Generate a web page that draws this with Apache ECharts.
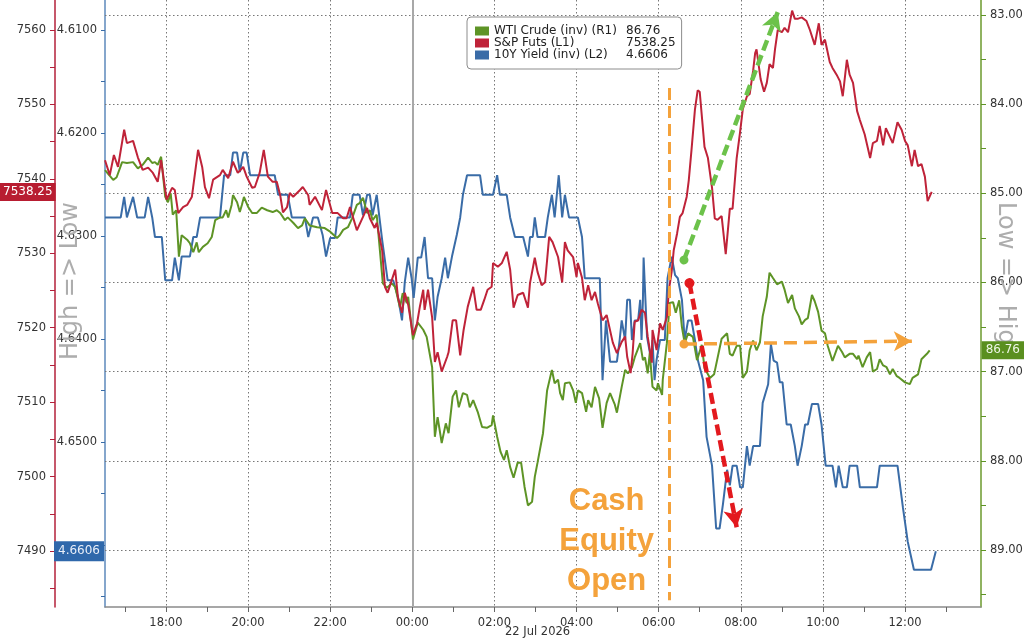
<!DOCTYPE html>
<html><head><meta charset="utf-8">
<script src="https://cdn.jsdelivr.net/npm/echarts@6/dist/echarts.min.js"></script>
<style>html,body{margin:0;padding:0;background:#fff}#c{width:1024px;height:640px}</style>
</head><body><div id="c"></div>
<script>
// ---- DATA (times are local clock, 21 Jul 16:31 → 22 Jul 12:45) ----
const spx = [["16:31",7542.5],["16:38",7540.5],["16:44",7543.2],["16:50",7541.6],["16:59",7546.6],["17:03",7544.8],["17:12",7545.1],["17:19",7542.9],["17:26",7541.2],["17:34",7541.5],["17:41",7540.8],["17:48",7539.6],["17:53",7542.5],["18:01",7537.2],["18:09",7538.8],["18:13",7538.5],["18:18",7535.4],["18:25",7536.2],["18:31",7536.5],["18:38",7537.6],["18:47",7543.9],["18:53",7541.6],["18:57",7538.9],["19:03",7537.4],["19:09",7539.9],["19:19",7540.5],["19:23",7541.2],["19:31",7540.1],["19:38",7542.3],["19:45",7540.8],["19:53",7541.6],["19:58",7540.3],["20:06",7538.8],["20:10",7538.9],["20:17",7540.8],["20:23",7543.9],["20:29",7540.3],["20:36",7539.6],["20:42",7539.6],["20:47",7537.8],["20:51",7535.5],["20:57",7536.2],["21:01",7538.1],["21:06",7537.6],["21:16",7538.5],["21:20",7538.9],["21:28",7537.8],["21:30",7536.5],["21:38",7537.6],["21:48",7535.8],["21:54",7538.5],["22:03",7535.4],["22:11",7535.4],["22:19",7534.7],["22:24",7534.7],["22:29",7536.2],["22:39",7533.1],["22:46",7534.5],["22:54",7536.1],["22:58",7534.7],["23:05",7533.4],["23:08",7534.1],["23:16",7530.4],["23:20",7525.5],["23:24",7524.7],["23:30",7526.4],["23:35",7527.8],["23:39",7524.1],["23:45",7522.0],["23:49",7524.7],["23:54",7523.1],["00:01",7519.0],["00:07",7520.6],["00:11",7522.8],["00:16",7525.1],["00:18",7522.4],["00:23",7525.1],["00:29",7521.4],["00:33",7515.4],["00:37",7516.7],["00:43",7514.1],["00:51",7516.1],["00:53",7516.7],["00:59",7521.0],["01:04",7521.0],["01:10",7516.3],["01:15",7519.7],["01:21",7522.8],["01:29",7525.5],["01:34",7522.4],["01:40",7522.4],["01:45",7523.7],["01:50",7525.1],["01:56",7525.5],["01:58",7528.7],["02:05",7528.2],["02:11",7528.7],["02:18",7530.2],["02:23",7527.8],["02:28",7522.7],["02:34",7524.4],["02:42",7524.7],["02:49",7522.7],["02:52",7526.0],["02:59",7529.4],["03:03",7527.5],["03:09",7525.7],["03:14",7526.1],["03:17",7529.1],["03:20",7532.2],["03:25",7531.5],["03:33",7529.5],["03:39",7526.1],["03:43",7531.5],["03:47",7530.4],["03:55",7529.5],["04:00",7526.8],["04:02",7528.7],["04:08",7526.7],["04:12",7523.7],["04:17",7525.7],["04:22",7523.7],["04:27",7524.8],["04:31",7523.3],["04:38",7521.0],["04:44",7521.7],["04:53",7518.0],["04:59",7516.6],["05:06",7518.1],["05:11",7518.8],["05:14",7516.1],["05:19",7513.9],["05:22",7516.6],["05:25",7520.8],["05:30",7521.0],["05:35",7522.4],["05:40",7522.0],["05:44",7518.8],["05:50",7515.3],["05:51",7519.7],["05:57",7517.0],["06:02",7520.6],["06:06",7519.7],["06:12",7521.4],["06:15",7525.1],["06:19",7527.5],["06:22",7530.4],["06:27",7532.7],["06:31",7534.9],["06:35",7535.4],["06:41",7537.6],["06:44",7539.8],["06:48",7543.9],["06:53",7549.3],["06:57",7551.9],["07:00",7551.7],["07:07",7544.3],["07:12",7542.8],["07:18",7538.8],["07:22",7534.7],["07:26",7534.5],["07:32",7535.0],["07:38",7529.9],["07:44",7536.0],["07:48",7536.0],["07:54",7542.8],["07:59",7546.3],["08:03",7549.4],["08:09",7551.1],["08:13",7551.4],["08:18",7554.5],["08:21",7556.9],["08:23",7557.4],["08:29",7553.4],["08:34",7551.7],["08:38",7552.9],["08:42",7555.4],["08:47",7554.9],["08:50",7557.4],["08:54",7560.0],["09:00",7559.7],["09:04",7560.3],["09:09",7559.7],["09:15",7562.6],["09:19",7561.5],["09:23",7561.5],["09:29",7561.7],["09:36",7561.2],["09:41",7560.0],["09:48",7558.0],["09:54",7560.9],["09:58",7558.0],["10:03",7558.7],["10:10",7555.7],["10:14",7554.9],["10:20",7554.0],["10:25",7553.1],["10:29",7551.1],["10:35",7556.0],["10:39",7554.0],["10:44",7552.9],["10:50",7549.1],["10:54",7547.9],["11:01",7546.0],["11:09",7542.8],["11:13",7544.8],["11:19",7545.1],["11:23",7547.1],["11:28",7544.5],["11:32",7546.8],["11:38",7545.6],["11:42",7544.8],["11:49",7547.6],["11:55",7546.6],["12:00",7545.1],["12:04",7544.5],["12:10",7541.7],["12:14",7543.9],["12:19",7541.7],["12:24",7542.0],["12:29",7540.3],["12:33",7537.0],["12:39",7538.25]];

const wti = [["16:31",84.74],["16:43",84.85],["16:48",84.82],["16:56",84.65],["17:03",84.66],["17:12",84.65],["17:19",84.72],["17:26",84.68],["17:34",84.60],["17:40",84.66],["17:44",84.65],["17:48",84.68],["17:53",84.59],["17:59",85.04],["18:03",85.10],["18:07",85.00],["18:10",85.24],["18:15",85.19],["18:19",85.71],["18:23",85.47],["18:31",85.52],["18:35",85.56],["18:40",85.66],["18:45",85.55],["18:48",85.66],["18:54",85.60],["19:01",85.56],["19:07",85.49],["19:12",85.30],["19:19",85.27],["19:23",85.27],["19:28",85.19],["19:31",85.27],["19:36",85.13],["19:38",85.02],["19:44",85.10],["19:48",85.21],["19:51",85.13],["19:54",85.04],["20:00",85.15],["20:06",85.22],["20:13",85.22],["20:20",85.16],["20:28",85.19],["20:36",85.21],["20:42",85.19],["20:47",85.22],["20:54",85.30],["20:58",85.27],["21:06",85.33],["21:13",85.39],["21:19",85.36],["21:23",85.28],["21:30",85.36],["21:41",85.38],["21:52",85.39],["22:00",85.43],["22:10",85.50],["22:14",85.47],["22:19",85.41],["22:26",85.38],["22:32",85.28],["22:39",85.13],["22:43",85.11],["22:48",85.05],["22:54",85.22],["22:58",85.19],["23:02",85.30],["23:08",85.24],["23:17",86.01],["23:23",86.06],["23:30",86.01],["23:35",86.05],["23:42",86.28],["23:46",86.12],["23:52",86.23],["23:54",86.16],["00:01",86.64],["00:08",86.45],["00:16",86.53],["00:21",86.61],["00:29",86.95],["00:33",87.73],["00:37",87.51],["00:43",87.80],["00:49",87.58],["00:53",87.69],["00:59",87.28],["01:04",87.21],["01:08",87.40],["01:14",87.24],["01:20",87.26],["01:24",87.40],["01:29",87.32],["01:36",87.46],["01:42",87.62],["01:49",87.63],["01:56",87.60],["01:58",87.49],["02:04",87.73],["02:09",87.90],["02:14",87.99],["02:18",87.88],["02:23",88.07],["02:28",88.19],["02:34",88.02],["02:39",88.02],["02:44",88.29],["02:49",88.50],["02:55",88.46],["02:59",88.18],["03:03",88.02],["03:11",87.69],["03:17",87.21],["03:24",86.98],["03:28",87.13],["03:33",87.09],["03:36",87.24],["03:40",87.32],["03:43",87.13],["03:50",87.12],["03:55",87.21],["03:59",87.35],["04:02",87.21],["04:08",87.24],["04:14",87.45],["04:17",87.32],["04:22",87.40],["04:27",87.17],["04:33",87.30],["04:38",87.63],["04:44",87.35],["04:49",87.24],["04:56",87.37],["04:59",87.46],["05:06",87.17],["05:11",86.98],["05:15",87.02],["05:21",86.95],["05:25",86.84],["05:33",86.68],["05:37",86.87],["05:40",86.84],["05:44",87.02],["05:47",86.79],["05:51",87.17],["05:57",87.21],["05:59",87.13],["06:05",87.26],["06:06",87.09],["06:12",86.68],["06:16",86.23],["06:21",86.22],["06:25",86.34],["06:30",86.20],["06:34",86.50],["06:38",86.68],["06:43",86.57],["06:50",86.61],["06:56",86.87],["07:03",86.70],["07:07",86.96],["07:15",87.07],["07:21",87.03],["07:32",86.63],["07:40",86.57],["07:44",86.80],["07:48",86.82],["07:54",86.71],["07:59",86.71],["08:03",87.07],["08:09",87.00],["08:13",86.76],["08:18",86.65],["08:23",86.76],["08:28",86.67],["08:32",86.38],["08:38",86.16],["08:42",85.89],["08:47",85.95],["08:53",86.02],["09:00",85.99],["09:04",86.08],["09:09",86.23],["09:15",86.14],["09:19",86.29],["09:25",86.38],["09:29",86.47],["09:34",86.42],["09:38",86.40],["09:44",86.14],["09:48",86.21],["09:53",86.33],["09:58",86.54],["10:03",86.57],["10:07",86.71],["10:14",86.88],["10:22",86.71],["10:28",86.78],["10:32",86.84],["10:39",86.80],["10:44",86.80],["10:50",86.86],["10:52",86.82],["10:58",86.95],["11:04",86.84],["11:09",86.78],["11:13",87.00],["11:19",86.97],["11:23",86.86],["11:28",86.93],["11:33",86.95],["11:38",87.03],["11:42",86.97],["11:48",87.05],["11:52",87.07],["12:00",87.12],["12:07",87.14],["12:11",87.07],["12:19",87.03],["12:24",86.86],["12:32",86.80],["12:36",86.76]];

const ust = [["16:31",4.6282],["16:54",4.6282],["16:59",4.6262],["17:03",4.6282],["17:12",4.6262],["17:18",4.6282],["17:29",4.6282],["17:34",4.6262],["17:40",4.6282],["17:44",4.6301],["17:54",4.6301],["17:59",4.6343],["18:09",4.6343],["18:13",4.6321],["18:19",4.6343],["18:23",4.6320],["18:35",4.6320],["18:40",4.6301],["18:45",4.6301],["18:50",4.6282],["19:19",4.6282],["19:25",4.6241],["19:34",4.6241],["19:38",4.6219],["19:44",4.6219],["19:48",4.6238],["19:53",4.6219],["19:58",4.6219],["20:03",4.6241],["20:39",4.6241],["20:44",4.6260],["20:58",4.6260],["21:04",4.6282],["21:23",4.6282],["21:28",4.6301],["21:35",4.6282],["21:42",4.6282],["21:49",4.6299],["21:54",4.6320],["22:00",4.6302],["22:07",4.6302],["22:11",4.6282],["22:29",4.6282],["22:33",4.6260],["22:43",4.6260],["22:48",4.6280],["22:54",4.6260],["22:58",4.6260],["23:02",4.6280],["23:08",4.6260],["23:16",4.6304],["23:24",4.6343],["23:32",4.6343],["23:39",4.6359],["23:45",4.6382],["23:49",4.6345],["23:54",4.6321],["23:59",4.6341],["00:02",4.6360],["00:08",4.6321],["00:13",4.6321],["00:18",4.6301],["00:23",4.6341],["00:29",4.6341],["00:33",4.6382],["00:37",4.6359],["00:43",4.6341],["00:48",4.6321],["00:52",4.6341],["00:58",4.6320],["01:05",4.6299],["01:10",4.6282],["01:14",4.6260],["01:20",4.6241],["01:39",4.6241],["01:43",4.6260],["01:58",4.6260],["02:04",4.6241],["02:08",4.6260],["02:18",4.6260],["02:23",4.6282],["02:30",4.6301],["02:42",4.6301],["02:49",4.6320],["02:52",4.6301],["02:56",4.6301],["02:59",4.6282],["03:03",4.6301],["03:14",4.6301],["03:18",4.6282],["03:24",4.6260],["03:28",4.6282],["03:34",4.6241],["03:39",4.6282],["03:43",4.6260],["03:49",4.6282],["04:02",4.6282],["04:08",4.6301],["04:12",4.6341],["04:34",4.6341],["04:38",4.6440],["04:43",4.6382],["04:49",4.6422],["04:59",4.6422],["05:03",4.6401],["05:06",4.6382],["05:11",4.6401],["05:14",4.6362],["05:18",4.6362],["05:21",4.6401],["05:25",4.6382],["05:30",4.6382],["05:33",4.6362],["05:35",4.6401],["05:37",4.6362],["05:38",4.6321],["05:43",4.6398],["05:49",4.6420],["05:51",4.6401],["05:54",4.6440],["05:57",4.6420],["06:02",4.6401],["06:09",4.6401],["06:13",4.6341],["06:19",4.6320],["06:24",4.6338],["06:28",4.6341],["06:34",4.6362],["06:38",4.6401],["06:43",4.6382],["06:48",4.6382],["06:53",4.6401],["06:57",4.6420],["07:05",4.6440],["07:10",4.6495],["07:18",4.6523],["07:24",4.6584],["07:29",4.6584],["07:34",4.6560],["07:40",4.6527],["07:44",4.6542],["07:48",4.6523],["07:54",4.6523],["07:59",4.6544],["08:03",4.6544],["08:09",4.6504],["08:13",4.6523],["08:18",4.6504],["08:28",4.6504],["08:32",4.6462],["08:40",4.6444],["08:44",4.6405],["08:48",4.6421],["08:53",4.6423],["08:57",4.6442],["09:01",4.6442],["09:07",4.6483],["09:13",4.6483],["09:19",4.6504],["09:23",4.6523],["09:29",4.6504],["09:34",4.6483],["09:38",4.6483],["09:44",4.6463],["09:53",4.6463],["09:58",4.6483],["10:04",4.6523],["10:14",4.6523],["10:19",4.6544],["10:23",4.6523],["10:29",4.6544],["10:35",4.6544],["10:39",4.6523],["10:50",4.6523],["10:54",4.6544],["11:19",4.6544],["11:23",4.6523],["11:49",4.6523],["11:57",4.6564],["12:04",4.6597],["12:13",4.6624],["12:38",4.6624],["12:45",4.6606]];

const lastValues = {wti: 86.76, spx: 7538.25, ust: 4.6606};
const xLabelTimes = ["18:00","20:00","22:00","00:00","02:00","04:00","06:00","08:00","10:00","12:00"];
const xTickTimes = ["17:00","18:00","19:00","20:00","21:00","22:00","23:00","00:00","01:00","02:00","03:00","04:00","05:00","06:00","07:00","08:00","09:00","10:00","11:00","12:00","13:00"];
const spxLabels = [7490,7500,7510,7520,7530,7540,7550,7560];
const spxMinor = [7485,7495,7505,7515,7525,7535,7545,7555];
const ustLabels = [4.61,4.62,4.63,4.64,4.65];
const ustMinor = [4.615,4.625,4.635,4.645,4.655,4.66,4.665];
const wtiLabels = [83,84,85,86,87,88,89];
const wtiMinor = [83.5,84.5,85.5,86.5,87.5,88.5,89.5];
const seriesNames = ["WTI Crude (inv) (R1)","S&P Futs (L1)","10Y Yield (inv) (L2)"];
const dateLabel = "22 Jul 2026";

// ---- helpers ----
function toMin(s){const p=s.split(':').map(Number);let v=p[0]*60+p[1];if(p[0]>=14)v-=1440;return v;}
function fmtMin(v){const t=((Math.round(v)%1440)+1440)%1440;const h=Math.floor(t/60),m=t%60;return (h<10?'0':'')+h+':'+(m<10?'0':'')+m;}
const F = '"DejaVu Sans", sans-serif';
const cGreen='#5e9426', cRed='#bf2339', cBlue='#3a6ca7', cOrange='#f4a23b';

const chart = echarts.init(document.getElementById('c'), null, {renderer:'canvas'});
const valMap = {[seriesNames[0]]:lastValues.wti.toFixed(2), [seriesNames[1]]:lastValues.spx.toFixed(2), [seriesNames[2]]:lastValues.ust.toFixed(4)};

const option = {
  animation:false,
  textStyle:{fontFamily:F},
  grid:{left:105,right:43,top:0,bottom:33,containLabel:false,outerBoundsMode:'none'},
  legend:{
    data:seriesNames, orient:'vertical', left:467, top:17, selectedMode:false,
    backgroundColor:'#fff', borderColor:'#8c8c8c', borderWidth:1, borderRadius:4,
    padding:[8,6,8,8], itemGap:0, itemWidth:14, itemHeight:9, icon:'rect',
    textStyle:{fontFamily:F,fontSize:12,color:'#222',
      rich:{n:{width:132,fontFamily:F,fontSize:12,color:'#222'},v:{width:46,fontFamily:F,fontSize:12,color:'#222'}}},
    formatter:n=>'{n|'+n+'}{v|'+valMap[n]+'}'
  },
  xAxis:{
    type:'value', min:toMin('16:31'), max:toMin('13:51'),
    axisLine:{show:true,onZero:false,lineStyle:{color:'#8a8a8a',width:1.5}},
    axisTick:{show:true,length:5,customValues:xTickTimes.map(toMin),lineStyle:{color:'#666'}},
    axisLabel:{customValues:xLabelTimes.map(toMin),formatter:v=>fmtMin(v),color:'#333',fontSize:11.5,fontFamily:F,margin:10},
    splitLine:{show:false}
  },
  yAxis:[
    {type:'value',position:'left',offset:50,min:7482.48,max:7564.03,
     axisLine:{show:true,onZero:false,lineStyle:{color:'#b3203a',width:1.5}},
     axisTick:{show:true,length:5,customValues:spxLabels.concat(spxMinor),lineStyle:{color:'#b3203a'}},
     axisLabel:{customValues:spxLabels,formatter:v=>String(v),color:'#333',fontSize:11.5,fontFamily:F,margin:9},
     splitLine:{show:false},
     axisPointer:{show:true,type:'none',status:'show',value:lastValues.spx,triggerTooltip:false,snap:false,
       label:{show:true,formatter:()=>lastValues.spx.toFixed(2),backgroundColor:'#b81d31',color:'#fff',fontFamily:F,fontSize:12,padding:[3,3,3,3],margin:1,borderRadius:0}}},
    {type:'value',position:'left',offset:0,inverse:true,min:4.60709,max:4.66602,
     axisLine:{show:true,onZero:false,lineStyle:{color:'#5d88bb',width:1.5}},
     axisTick:{show:true,length:4,customValues:ustLabels.concat(ustMinor),lineStyle:{color:'#3a6ca7'}},
     axisLabel:{customValues:ustLabels,formatter:v=>v.toFixed(4),color:'#333',fontSize:11.5,fontFamily:F,margin:8},
     splitLine:{show:false},
     axisPointer:{show:true,type:'none',status:'show',value:lastValues.ust,triggerTooltip:false,snap:false,
       label:{show:true,formatter:()=>lastValues.ust.toFixed(4),backgroundColor:'#2f68ab',color:'#e8eef8',fontFamily:F,fontSize:12,padding:[4,4,4,4],margin:1,borderRadius:0}}},
    {type:'value',position:'right',offset:0,inverse:true,min:82.832,max:89.639,
     axisLine:{show:true,onZero:false,lineStyle:{color:'#6b9a2c',width:1.5}},
     axisTick:{show:true,length:5,customValues:wtiLabels.concat(wtiMinor),lineStyle:{color:'#5e9426'}},
     axisLabel:{customValues:wtiLabels,formatter:v=>v.toFixed(2),color:'#333',fontSize:11.5,fontFamily:F,margin:9},
     splitLine:{show:false},
     axisPointer:{show:true,type:'none',status:'show',value:lastValues.wti,triggerTooltip:false,snap:false,
       label:{show:true,formatter:()=>lastValues.wti.toFixed(2),backgroundColor:'#5a8f1f',color:'#eef6e6',fontFamily:F,fontSize:12,padding:[3,4,3,4],margin:1,borderRadius:0}}}
  ],
  series:[
    {name:seriesNames[2],type:'line',yAxisIndex:1,data:ust.map(d=>[toMin(d[0]),d[1]]),showSymbol:false,symbol:'none',
     lineStyle:{color:cBlue,width:2},itemStyle:{color:cBlue},z:3},
    {name:seriesNames[0],type:'line',yAxisIndex:2,data:wti.map(d=>[toMin(d[0]),d[1]]),showSymbol:false,symbol:'none',
     lineStyle:{color:cGreen,width:2},itemStyle:{color:cGreen},z:3,
     markLine:{silent:true,symbol:['none','none'],z:1,label:{show:false},animation:false,
       lineStyle:{color:'#777',type:[1.5,2.5],width:1},
       data:wtiLabels.map(v=>({yAxis:v}))
         .concat(xLabelTimes.filter(t=>t!=='00:00').map(t=>({xAxis:toMin(t)})))
         .concat([{xAxis:toMin('00:00'),lineStyle:{type:'solid',color:'#a8a8a8',width:2}}])}},
    {name:seriesNames[1],type:'line',yAxisIndex:0,data:spx.map(d=>[toMin(d[0]),d[1]]),showSymbol:false,symbol:'none',
     lineStyle:{color:cRed,width:2},itemStyle:{color:cRed},z:4,
     markLine:{silent:true,z:6,label:{show:false},animation:false,symbol:['none','none'],
       data:[
         [{coord:[toMin('06:16'),7552.2],symbol:'none',lineStyle:{color:cOrange,width:3,type:[12,6]}},{coord:[toMin('06:16'),7483.4],symbol:'none'}],
         [{coord:[toMin('06:37'),7529.1],symbol:'circle',symbolSize:9,lineStyle:{color:'#6cc24a',width:4.5,type:[11,5]}},{coord:[toMin('08:54'),7562.4],symbol:'arrow',symbolSize:[15,18]}],
         [{coord:[toMin('06:45'),7526.0],symbol:'circle',symbolSize:10,lineStyle:{color:'#e3191e',width:4.5,type:[11,5]}},{coord:[toMin('07:54'),7493.2],symbol:'arrow',symbolSize:[15,18]}],
         [{coord:[toMin('06:37'),7517.8],symbol:'circle',symbolSize:9,lineStyle:{color:cOrange,width:3.5,type:[13,7]}},{coord:[toMin('12:10'),7518.2],symbol:'arrow',symbolSize:[15,18]}]
       ]},
     markPoint:{silent:true,z:6,animation:false,data:[
       {coord:[toMin('04:44'),7491.35],symbol:'rect',symbolSize:1,itemStyle:{color:'rgba(0,0,0,0)'},
        label:{show:true,position:'inside',formatter:'Cash\nEquity\nOpen',color:cOrange,fontSize:31,fontWeight:'bold',
          fontFamily:'"Liberation Sans", Arial, sans-serif',lineHeight:40,align:'center',verticalAlign:'middle'}}]}}
  ],
  graphic:[
    {type:'text',left:505,top:626,silent:true,style:{text:dateLabel,fill:'#333',font:'11.5px "DejaVu Sans"'}},
    {type:'text',x:71,y:281,rotation:Math.PI/2,silent:true,z:10,style:{text:'High => Low',fill:'#adadad',font:'24px "DejaVu Sans"',align:'center',verticalAlign:'middle'}},
    {type:'text',x:1005,y:281,rotation:-Math.PI/2,silent:true,z:10,style:{text:'Low => High',fill:'#adadad',font:'24px "DejaVu Sans"',align:'center',verticalAlign:'middle'}}
  ]
};
chart.setOption(option);
</script></body></html>
